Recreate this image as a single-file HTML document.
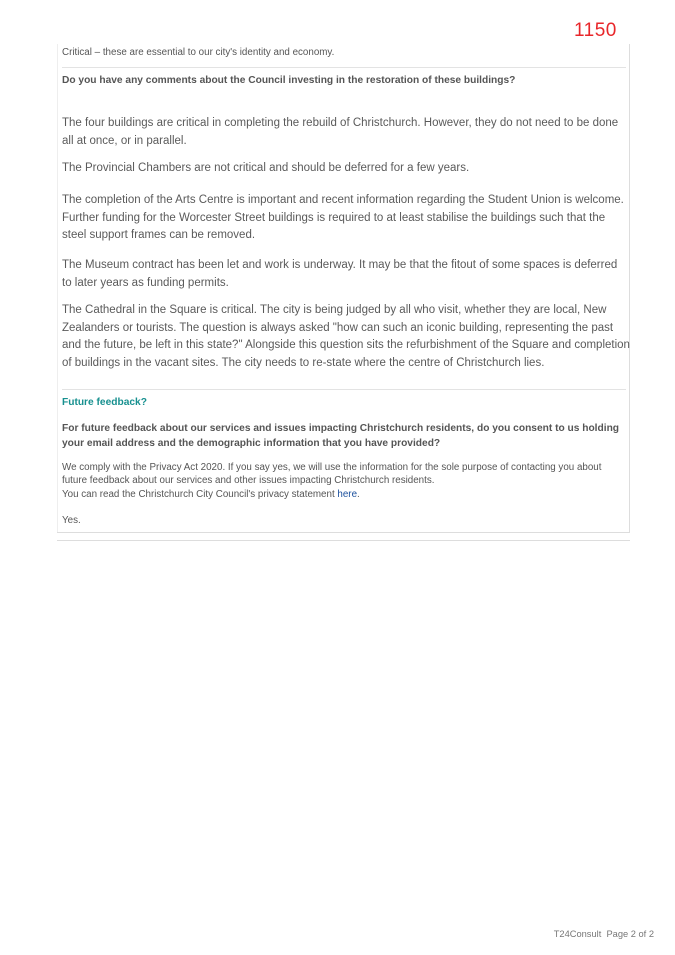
<!DOCTYPE html>
<html><head><meta charset="utf-8"><style>
body{margin:0;width:675px;height:955px;background:#fff;position:relative;font-family:"Liberation Sans",Arial,sans-serif;color:#555;}
.a{position:absolute;white-space:nowrap;}
.s{font-size:9.8px;}
.p{font-size:11.5px;color:#5a5a5a;}
.b{font-weight:bold;font-size:10.2px;color:#555;}
</style></head><body>
<div class="a" style="left:574px;top:20px;font-size:19px;color:#e8262a;letter-spacing:0.5px;">1150</div>
<div style="position:absolute;left:629px;top:44px;width:1px;height:489px;background:#ddd"></div>
<div style="position:absolute;left:57px;top:44px;width:1px;height:489px;background:#eee"></div>
<div style="position:absolute;left:57px;top:532px;width:573px;height:1px;background:#ddd"></div>
<div style="position:absolute;left:57px;top:540px;width:573px;height:1px;background:#ddd"></div>
<div style="position:absolute;left:62px;top:67px;width:564px;height:1px;background:#e3e3e3"></div>
<div style="position:absolute;left:62px;top:389px;width:564px;height:1px;background:#e3e3e3"></div>
<div class="a s" style="left:62px;top:47px;">Critical – these are essential to our city's identity and economy.</div>
<div class="a b" style="left:62px;top:75px;">Do you have any comments about the Council investing in the restoration of these buildings?</div>
<div class="a p" style="left:62px;top:114px;line-height:18px;">The four buildings are critical in completing the rebuild of Christchurch. However, they do not need to be done<br>all at once, or in parallel.</div>
<div class="a p" style="left:62px;top:162px;">The Provincial Chambers are not critical and should be deferred for a few years.</div>
<div class="a p" style="left:62px;top:192px;line-height:17.5px;">The completion of the Arts Centre is important and recent information regarding the Student Union is welcome.<br>Further funding for the Worcester Street buildings is required to at least stabilise the buildings such that the<br>steel support frames can be removed.</div>
<div class="a p" style="left:62px;top:256px;line-height:18px;">The Museum contract has been let and work is underway. It may be that the fitout of some spaces is deferred<br>to later years as funding permits.</div>
<div class="a p" style="left:62px;top:302px;line-height:17.5px;">The Cathedral in the Square is critical. The city is being judged by all who visit, whether they are local, New<br>Zealanders or tourists. The question is always asked "how can such an iconic building, representing the past<br>and the future, be left in this state?" Alongside this question sits the refurbishment of the Square and completion<br>of buildings in the vacant sites. The city needs to re-state where the centre of Christchurch lies.</div>
<div class="a b" style="left:62px;top:397px;color:#17908f;">Future feedback?</div>
<div class="a b" style="left:62px;top:421px;line-height:15px;">For future feedback about our services and issues impacting Christchurch residents, do you consent to us holding<br>your email address and the demographic information that you have provided?</div>
<div class="a s" style="left:62px;top:461px;line-height:13.3px;">We comply with the Privacy Act 2020. If you say yes, we will use the information for the sole purpose of contacting you about<br>future feedback about our services and other issues impacting Christchurch residents.<br>You can read the Christchurch City Council's privacy statement <span style="color:#1a4f9c">here</span>.</div>
<div class="a s" style="left:62px;top:515px;">Yes.</div>
<div class="a" style="right:21px;top:929px;font-size:9.3px;color:#777;">T24Consult&nbsp; Page 2 of 2</div>
</body></html>
